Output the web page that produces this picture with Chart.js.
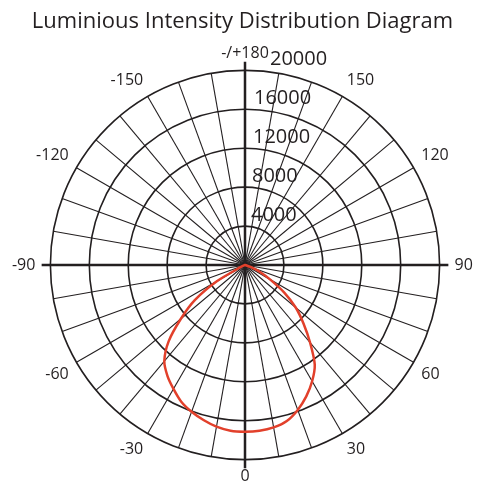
<!DOCTYPE html>
<html>
<head>
<meta charset="utf-8">
<script src="https://cdn.jsdelivr.net/npm/chart.js@4.4.0/dist/chart.umd.min.js"></script>
<style>
  html, body { margin: 0; padding: 0; background: #fff; }
</style>
</head>
<body>
<canvas id="chart" width="477" height="485"></canvas>
<script>
// Angles (deg), clockwise from the top of the diagram: 180 at top, 90 right, 0 bottom, -90 left
const angles = [
  180, 175, 170, 165, 160, 155, 150, 145, 140, 135, 130, 125,
  120, 115, 110, 105, 100, 95, 90, 85, 80, 75, 70, 65,
  60, 55, 50, 45, 40, 35, 30, 25, 20, 15, 10, 5,
  0, -5, -10, -15, -20, -25, -30, -35, -40, -45, -50, -55,
  -60, -65, -70, -75, -80, -85, -90, -95, -100, -105, -110, -115,
  -120, -125, -130, -135, -140, -145, -150, -155, -160, -165, -170, -175
];

// Luminous intensity (cd) at each angle above
const intensity = [
  0, 0, 0, 0, 0, 0, 0, 0, 0, 0, 0, 0,
  0, 0, 0, 0, 0, 0, 0, 0, 0, 100, 600, 1700,
  3000, 4900, 6800, 8500, 10400, 12500, 13800, 14900, 15850, 16600, 16950, 17100,
  17130, 17100, 16870, 16490, 16050, 15500, 14700, 13900, 12900, 11100, 8600, 6300,
  3300, 400, 0, 0, 0, 0, 0, 0, 0, 0, 0, 0,
  0, 0, 0, 0, 0, 0, 0, 0, 0, 0, 0, 0
];

const tickValues = [4000, 8000, 12000, 16000, 20000];

const FONT = "'Open Sans', 'Liberation Sans', sans-serif";
const INK = "#231f20";

// main axes (0/180 and -90/90) drawn a bit past the outer ring, plus the ring values
const polarExtras = {
  id: "polarExtras",
  beforeDatasetsDraw(chart) {
    const s = chart.scales.r;
    const ctx = chart.ctx;
    const ext = s.max * 1.045;
    const p = [180, 0, 90, -90].map(a => s.getPointPositionForValue(angles.indexOf(a), ext));
    ctx.save();
    ctx.strokeStyle = INK;
    ctx.lineWidth = 2.5;
    ctx.beginPath();
    ctx.moveTo(p[0].x, p[0].y);
    ctx.lineTo(p[1].x, p[1].y);
    ctx.moveTo(p[2].x, p[2].y);
    ctx.lineTo(p[3].x, p[3].y);
    ctx.stroke();
    ctx.restore();
  },
  afterDraw(chart) {
    const s = chart.scales.r;
    const ctx = chart.ctx;
    ctx.save();
    ctx.font = "20px " + FONT;
    ctx.fillStyle = INK;
    ctx.textAlign = "left";
    ctx.textBaseline = "middle";
    tickValues.forEach(v => {
      const r = s.getDistanceFromCenterForValue(v);
      const dx = v === s.max ? 25 : 5 + v / 4000;
      ctx.fillText(String(v), s.xCenter + dx, s.yCenter - r - 11);
    });
    ctx.restore();
  }
};

new Chart(document.getElementById("chart"), {
  type: "radar",
  data: {
    labels: angles,
    datasets: [{
      data: intensity,
      borderColor: "#e2402b",
      borderWidth: 2.5,
      pointRadius: 0,
      fill: false,
      tension: 0.25
    }]
  },
  options: {
    responsive: false,
    animation: false,
    layout: { padding: { left: 8 } },
    plugins: {
      legend: { display: false },
      tooltip: { enabled: false },
      title: {
        display: true,
        text: "Luminious Intensity Distribution Diagram",
        color: INK,
        font: { family: FONT, size: 22, weight: "normal" },
        padding: { top: 9, bottom: 10 }
      }
    },
    scales: {
      r: {
        min: 0,
        max: 20000,
        startAngle: 0,
        ticks: { display: false, stepSize: 4000 },
        grid: { circular: true, color: INK, lineWidth: 1.6 },
        angleLines: {
          color: INK,
          lineWidth: ctx => angles[ctx.index] % 10 === 0 ? 1.1 : 0
        },
        pointLabels: {
          color: INK,
          font: { family: FONT, size: 16, lineHeight: 1 },
          padding: ctx => Math.abs(angles[ctx.index]) === 90 ? 15 : 9,
          callback: (label) => {
            if (label % 30 !== 0) return "";
            return label === 180 ? "-/+180" : String(label);
          }
        }
      }
    }
  },
  plugins: [polarExtras]
});
</script>
</body>
</html>
